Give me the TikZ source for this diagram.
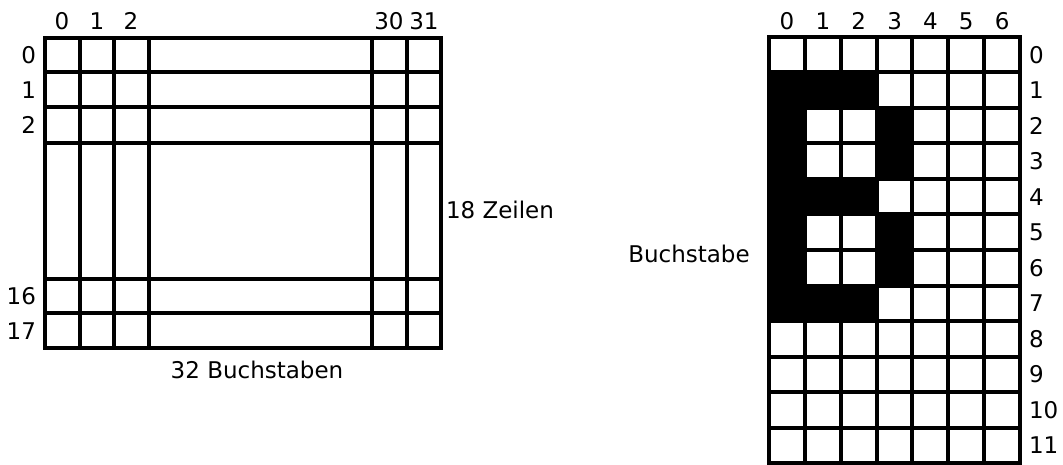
\documentclass[tikz,border=0pt]{standalone}
\usepackage{fontspec}
\setmainfont{DejaVu Sans}
\begin{document}
\begin{tikzpicture}[x=1pt,y=-1pt,line width=4pt,line cap=rect]
	\tikzset{lbl/.style={font=\fontsize{23}{27}\selectfont,inner sep=0pt}}
	\useasboundingbox (0,0) rectangle (1063,465);
	% Bildschirm 32 x 18
	\foreach \x in {45,80,114,149,372,407,441}
		\draw (\x,38) -- (\x,348);
	\foreach \y in {38,72,107,143,279,313,348}
		\draw (45,\y) -- (441,\y);
	\foreach \n/\x in {0/62,1/97,2/131,30/389,31/424}
		\node[lbl] (col\n) at (\x,21) {\n};
	\foreach \n/\y in {0/55,1/90,2/125,16/296,17/331}
		\node[lbl,anchor=east] (row\n) at (38,\y) {\n};
	\node[lbl,anchor=west] (zeilen) at (444,210) {18 Zeilen};
	\node[lbl] (buchstaben) at (257,370) {32 Buchstaben};
	% Zeichen 7 x 12
	\foreach \r/\c in {1/0,1/1,1/2,2/0,2/3,3/0,3/3,4/0,4/1,4/2,5/0,5/3,6/0,6/3,7/0,7/1,7/2}
		\fill (769+35.86*\c,37+35.5*\r) rectangle ++(35.86,35.5);
	\foreach \c in {0,...,7}
		\draw (769+35.86*\c,37) -- ++(0,426);
	\foreach \r in {0,...,12}
		\draw (769,37+35.5*\r) -- ++(251,0);
	\foreach \c in {0,...,6}
		\node[lbl] (bcol\c) at (787+35.86*\c,21) {\c};
	\foreach \r in {0,...,11}
		\node[lbl,anchor=west] (brow\r) at (1027,55+35.5*\r) {\r};
	\node[lbl] (buchstabe) at (689,254) {Buchstabe};
\end{tikzpicture}
\end{document}
